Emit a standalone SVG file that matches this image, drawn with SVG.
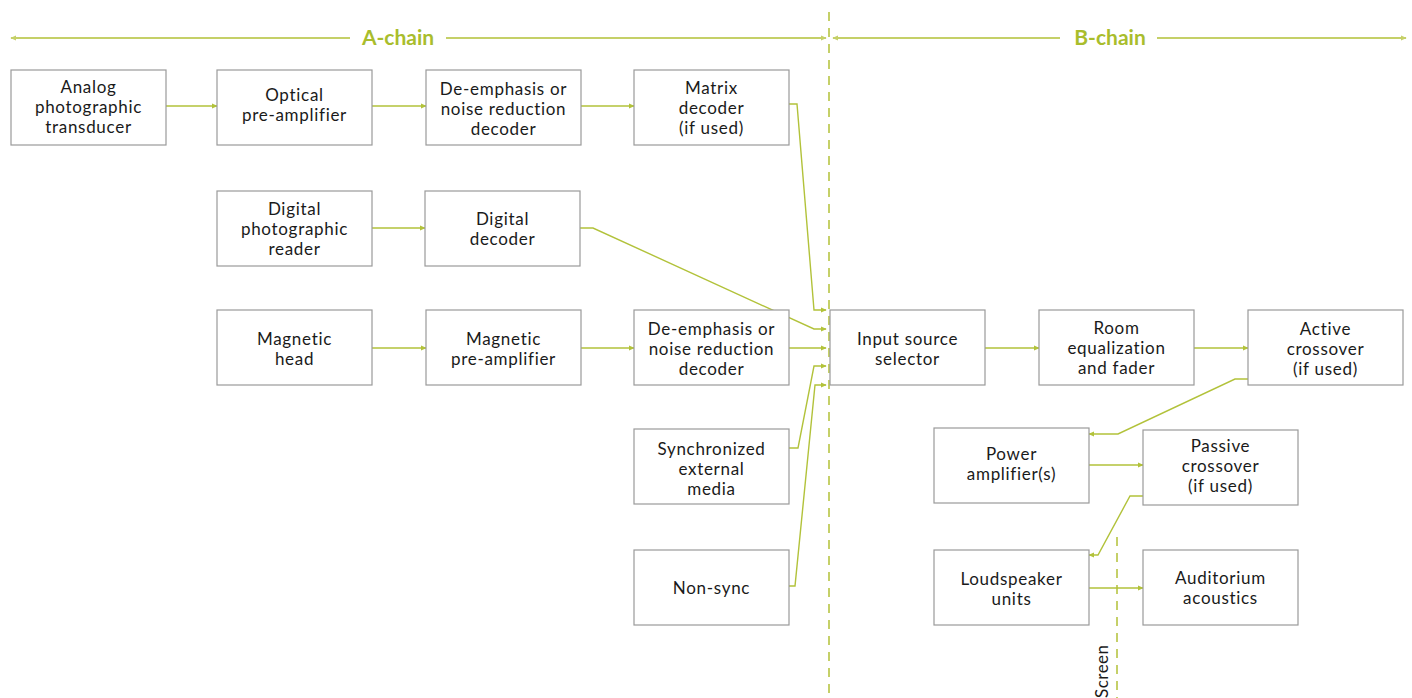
<svg xmlns="http://www.w3.org/2000/svg" width="1412" height="698" viewBox="0 0 1412 698">
<style>
.box{fill:#fff;stroke:#9a9a9a;stroke-width:1.2}
.t{font-family:Lato,"Open Sans","Liberation Sans",sans-serif;font-size:17px;letter-spacing:0.7px;fill:#1a1a1a;text-anchor:middle}
.c{fill:none;stroke:#b2c23a;stroke-width:1.4}
.chain{fill:none;stroke:#c5d068;stroke-width:2}
.dash{fill:none;stroke:#c5d068;stroke-width:2;stroke-dasharray:9,7}
.lbl{font-family:Lato,"Open Sans","Liberation Sans",sans-serif;font-size:21px;font-weight:bold;fill:#a9bd2c;text-anchor:middle}
</style>
<defs>
<marker id="a" viewBox="0 0 8 8" refX="7" refY="4" markerWidth="6" markerHeight="6" orient="auto" markerUnits="userSpaceOnUse">
<path d="M0,0.5 L8,4 L0,7.5 Z" fill="#b2c23a"/>
</marker>
<marker id="ac" viewBox="0 0 8 8" refX="7" refY="4" markerWidth="6" markerHeight="6" orient="auto-start-reverse" markerUnits="userSpaceOnUse">
<path d="M0,0.5 L8,4 L0,7.5 Z" fill="#c5d068"/>
</marker>
</defs>
<g id="chains">
<line class="chain" x1="11" y1="38" x2="350" y2="38" marker-start="url(#ac)"/>
<text class="lbl" x="398" y="45">A-chain</text>
<line class="chain" x1="446" y1="38" x2="826" y2="38" marker-end="url(#ac)"/>
<line class="chain" x1="833" y1="38" x2="1060" y2="38" marker-start="url(#ac)"/>
<text class="lbl" x="1110" y="45">B-chain</text>
<line class="chain" x1="1157" y1="38" x2="1406" y2="38" marker-end="url(#ac)"/>
<line class="dash" x1="829" y1="12" x2="829" y2="698"/>
<line class="dash" x1="1117" y1="537" x2="1117" y2="698"/>
<text x="1108" y="698" transform="rotate(-90 1108 698)" style="font-family:Lato,'Open Sans','Liberation Sans',sans-serif;font-size:17px;letter-spacing:0.5px;fill:#1a1a1a">Screen</text>
</g>
<g id="connectors">
<line class="c" x1="166" y1="106" x2="217" y2="106" marker-end="url(#a)"/>
<line class="c" x1="372" y1="106" x2="426" y2="106" marker-end="url(#a)"/>
<line class="c" x1="581" y1="106" x2="634" y2="106" marker-end="url(#a)"/>
<polyline class="c" points="789,104 797,104 814,310 826,310" marker-end="url(#a)"/>
<line class="c" x1="372" y1="228" x2="425" y2="228" marker-end="url(#a)"/>
<polyline class="c" points="580,228 593,228 814,329 826,329" marker-end="url(#a)"/>
<line class="c" x1="372" y1="348" x2="426" y2="348" marker-end="url(#a)"/>
<line class="c" x1="581" y1="348" x2="634" y2="348" marker-end="url(#a)"/>
<line class="c" x1="789" y1="348" x2="826" y2="348" marker-end="url(#a)"/>
<polyline class="c" points="789,448 798,448 814,366 826,366" marker-end="url(#a)"/>
<polyline class="c" points="789,586 795,586 815,385 826,385" marker-end="url(#a)"/>
<line class="c" x1="985" y1="348" x2="1039" y2="348" marker-end="url(#a)"/>
<line class="c" x1="1194" y1="348" x2="1248" y2="348" marker-end="url(#a)"/>
<polyline class="c" points="1248,379 1235,379 1118,434 1089,434" marker-end="url(#a)"/>
<line class="c" x1="1089" y1="465" x2="1143" y2="465" marker-end="url(#a)"/>
<polyline class="c" points="1143,496 1130,496 1098,555 1089,555" marker-end="url(#a)"/>
<line class="c" x1="1089" y1="588" x2="1143" y2="588" marker-end="url(#a)"/>
</g>
<g id="analog"><rect class="box" x="11" y="70" width="155" height="75"/><text class="t" x="88.5" y="93">Analog</text><text class="t" x="88.5" y="113">photographic</text><text class="t" x="88.5" y="133">transducer</text></g>
<g id="optical"><rect class="box" x="217" y="70" width="155" height="75"/><text class="t" x="294.5" y="101">Optical</text><text class="t" x="294.5" y="121">pre-amplifier</text></g>
<g id="deemph1"><rect class="box" x="426" y="70" width="155" height="75"/><text class="t" x="503.5" y="95">De-emphasis or</text><text class="t" x="503.5" y="115">noise reduction</text><text class="t" x="503.5" y="135">decoder</text></g>
<g id="matrix"><rect class="box" x="634" y="70" width="155" height="75"/><text class="t" x="711.5" y="94">Matrix</text><text class="t" x="711.5" y="114">decoder</text><text class="t" x="711.5" y="134">(if used)</text></g>
<g id="digreader"><rect class="box" x="217" y="191" width="155" height="75"/><text class="t" x="294.5" y="215">Digital</text><text class="t" x="294.5" y="235">photographic</text><text class="t" x="294.5" y="255">reader</text></g>
<g id="digdecoder"><rect class="box" x="425" y="191" width="155" height="75"/><text class="t" x="502.5" y="225">Digital</text><text class="t" x="502.5" y="245">decoder</text></g>
<g id="maghead"><rect class="box" x="217" y="310" width="155" height="75"/><text class="t" x="294.5" y="345">Magnetic</text><text class="t" x="294.5" y="365">head</text></g>
<g id="magpre"><rect class="box" x="426" y="310" width="155" height="75"/><text class="t" x="503.5" y="345">Magnetic</text><text class="t" x="503.5" y="365">pre-amplifier</text></g>
<g id="deemph2"><rect class="box" x="634" y="310" width="155" height="75"/><text class="t" x="711.5" y="335">De-emphasis or</text><text class="t" x="711.5" y="355">noise reduction</text><text class="t" x="711.5" y="375">decoder</text></g>
<g id="sync"><rect class="box" x="634" y="429" width="155" height="75"/><text class="t" x="711.5" y="455">Synchronized</text><text class="t" x="711.5" y="475">external</text><text class="t" x="711.5" y="495">media</text></g>
<g id="nonsync"><rect class="box" x="634" y="550" width="155" height="75"/><text class="t" x="711.5" y="594">Non-sync</text></g>
<g id="input"><rect class="box" x="830" y="310" width="155" height="75"/><text class="t" x="907.5" y="345">Input source</text><text class="t" x="907.5" y="365">selector</text></g>
<g id="room"><rect class="box" x="1039" y="310" width="155" height="75"/><text class="t" x="1116.5" y="334">Room</text><text class="t" x="1116.5" y="354">equalization</text><text class="t" x="1116.5" y="374">and fader</text></g>
<g id="active"><rect class="box" x="1248" y="310" width="155" height="75"/><text class="t" x="1325.5" y="335">Active</text><text class="t" x="1325.5" y="355">crossover</text><text class="t" x="1325.5" y="375">(if used)</text></g>
<g id="power"><rect class="box" x="934" y="428" width="155" height="75"/><text class="t" x="1011.5" y="460">Power</text><text class="t" x="1011.5" y="480">amplifier(s)</text></g>
<g id="passive"><rect class="box" x="1143" y="430" width="155" height="75"/><text class="t" x="1220.5" y="452">Passive</text><text class="t" x="1220.5" y="472">crossover</text><text class="t" x="1220.5" y="492">(if used)</text></g>
<g id="speakers"><rect class="box" x="934" y="550" width="155" height="75"/><text class="t" x="1011.5" y="585">Loudspeaker</text><text class="t" x="1011.5" y="605">units</text></g>
<g id="auditorium"><rect class="box" x="1143" y="550" width="155" height="75"/><text class="t" x="1220.5" y="584">Auditorium</text><text class="t" x="1220.5" y="604">acoustics</text></g>
</svg>
